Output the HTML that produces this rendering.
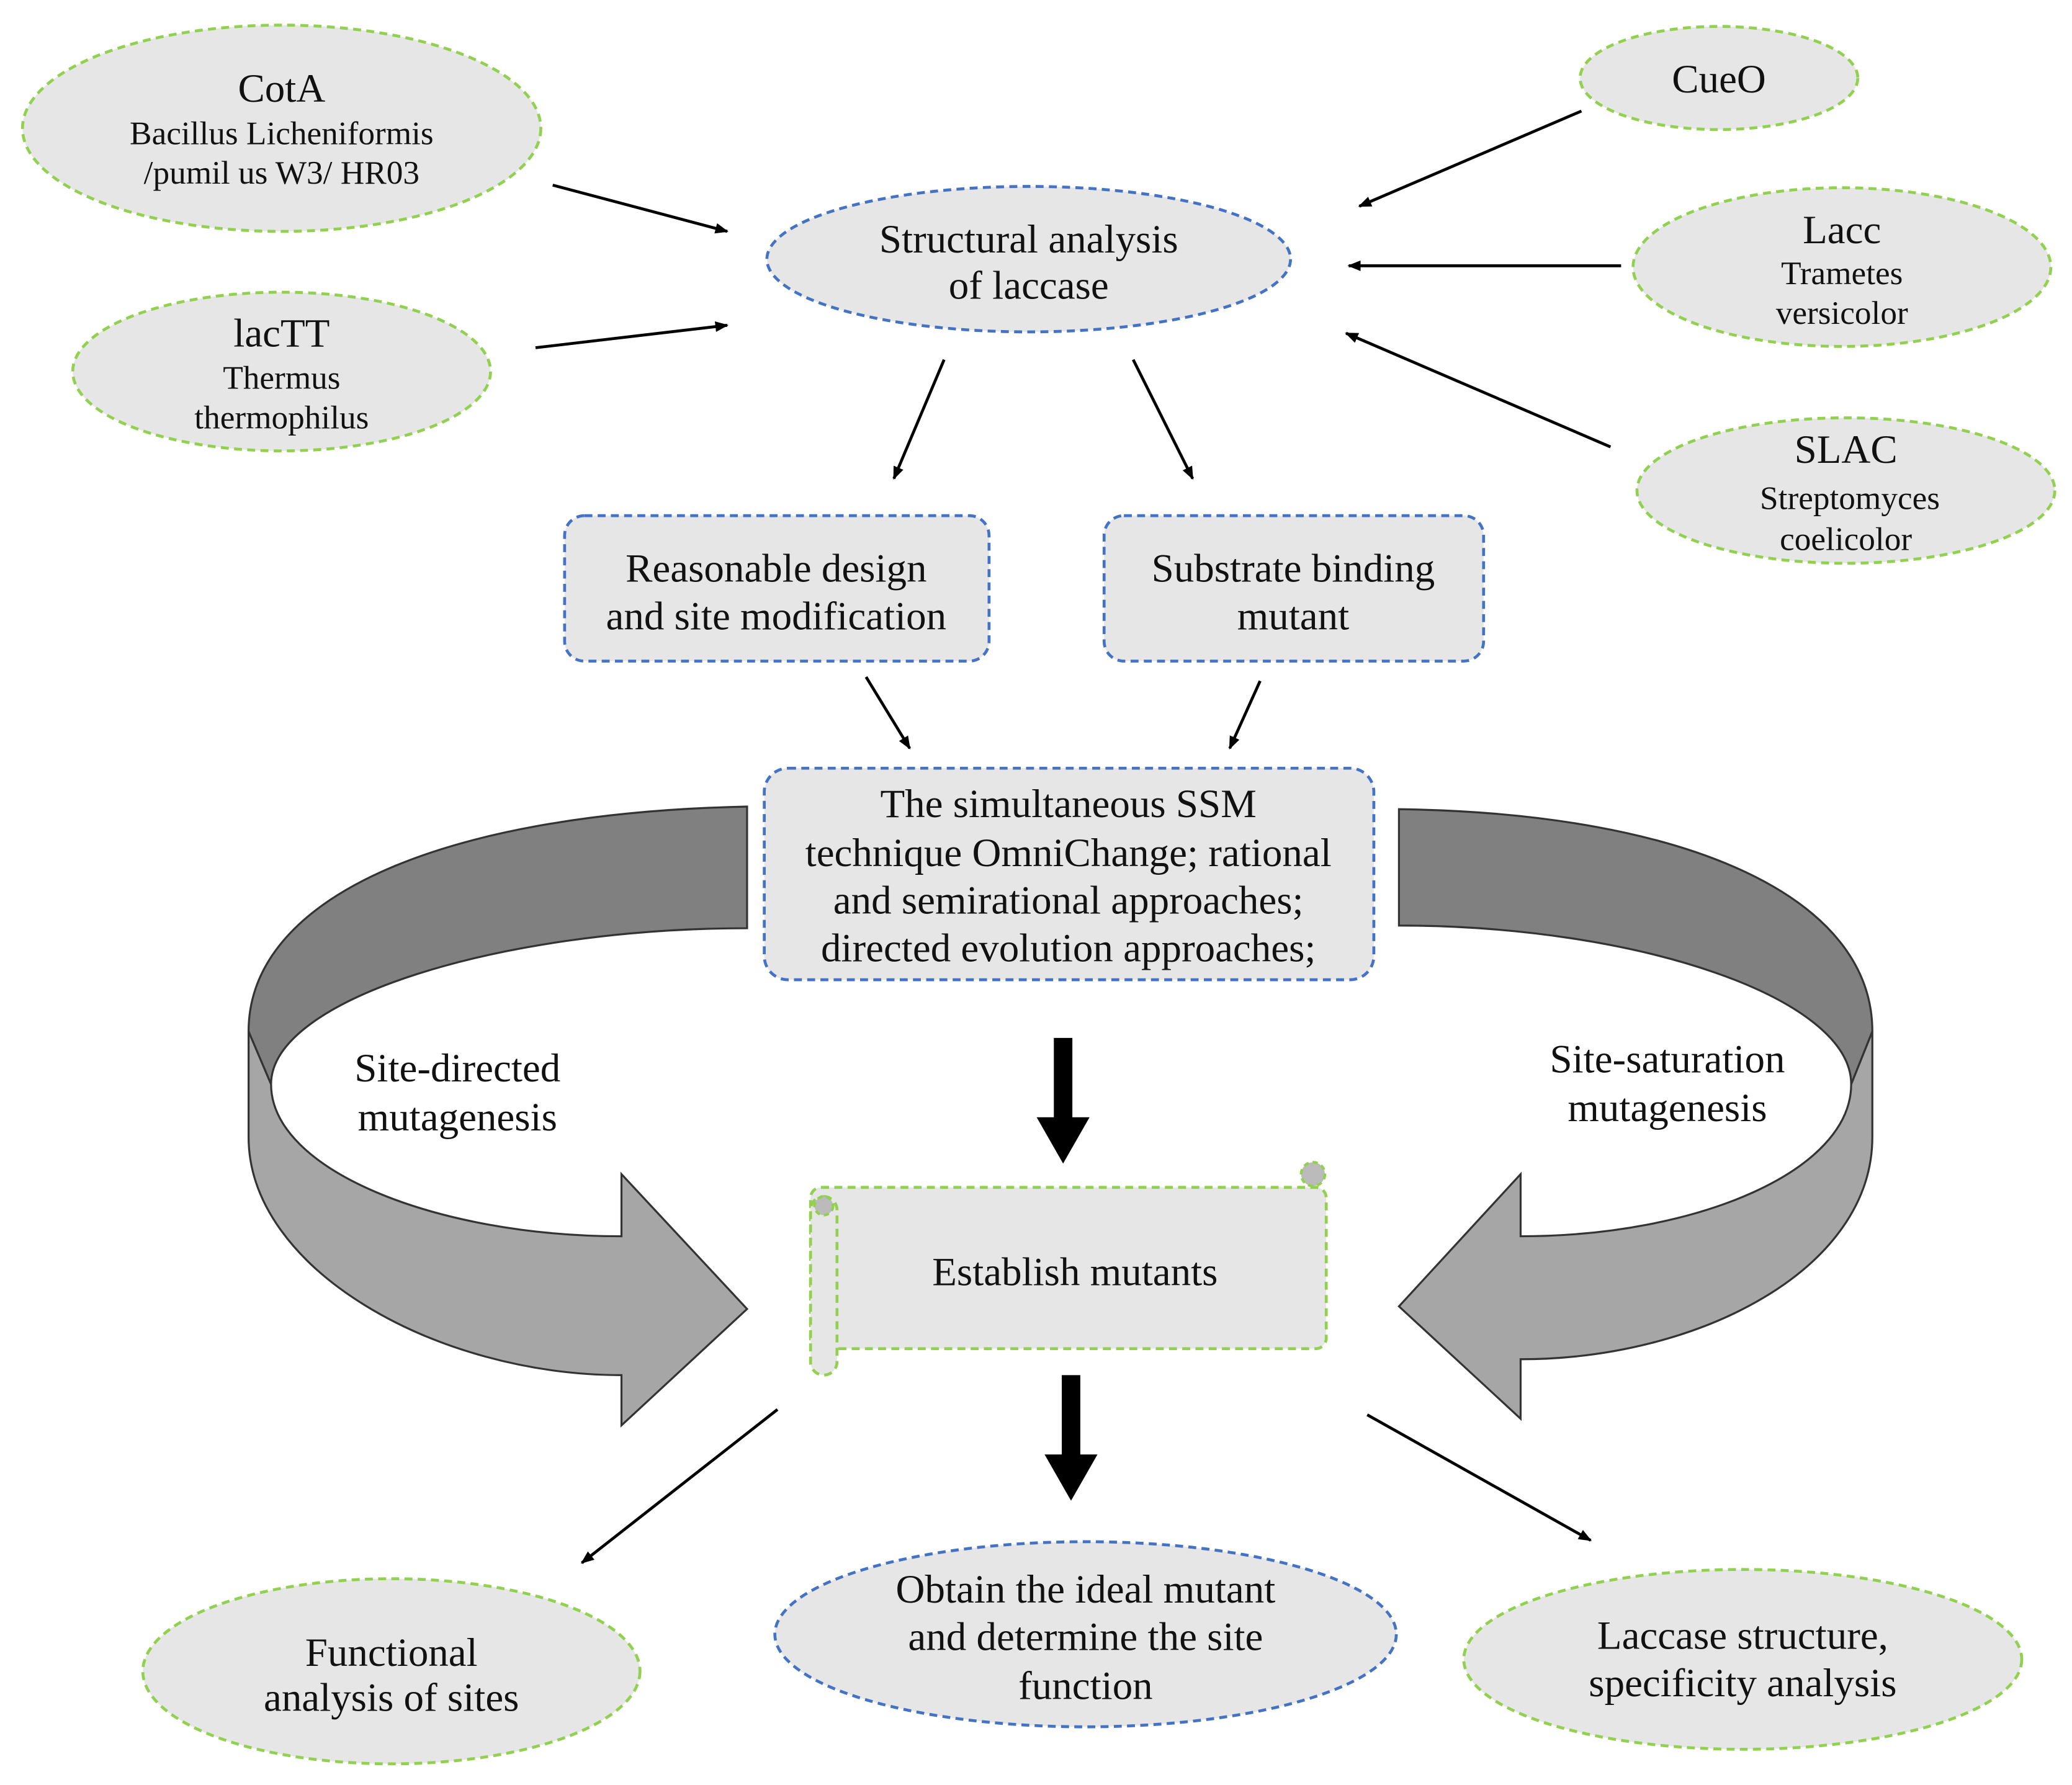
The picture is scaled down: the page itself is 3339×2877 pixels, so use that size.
<!DOCTYPE html>
<html><head><meta charset="utf-8"><style>
html,body{margin:0;padding:0;background:#fff;width:3339px;height:2877px;overflow:hidden}
svg{display:block}
text{font-family:"Liberation Serif",serif;fill:#111;text-anchor:middle}
.g{fill:#e6e6e6;stroke:#92d050;stroke-width:2.2;stroke-dasharray:6,4}
.b{fill:#e6e6e6;stroke:#4472c4;stroke-width:2.2;stroke-dasharray:6,4}
.L{font-size:30.5px}.S{font-size:25px}
.ar{stroke:#000;stroke-width:2.2;fill:none;marker-end:url(#ah)}
</style></head><body>
<svg width="3339" height="2877" viewBox="0 0 1567 1350" preserveAspectRatio="none">
<defs><marker id="ah" markerWidth="10" markerHeight="8" refX="9" refY="4" orient="auto" markerUnits="userSpaceOnUse" viewBox="0 0 10 8"><path d="M0,0 L10,4 L0,8 Z" fill="#000"/></marker></defs>

<ellipse class="g" cx="213" cy="97" rx="196" ry="78"/>
<text class="L" x="213" y="77">CotA</text>
<text class="S" x="213" y="109">Bacillus Licheniformis</text>
<text class="S" x="213" y="139">/pumil us W3/ HR03</text>

<ellipse class="g" cx="213" cy="281" rx="158" ry="60"/>
<text class="L" x="213" y="262">lacTT</text>
<text class="S" x="213" y="294">Thermus</text>
<text class="S" x="213" y="324">thermophilus</text>

<ellipse class="g" cx="1300" cy="59" rx="105" ry="39"/>
<text class="L" x="1300" y="70">CueO</text>

<ellipse class="g" cx="1393" cy="202" rx="158" ry="60"/>
<text class="L" x="1393" y="184">Lacc</text>
<text class="S" x="1393" y="215">Trametes</text>
<text class="S" x="1393" y="245">versicolor</text>

<ellipse class="g" cx="1396" cy="371" rx="158" ry="55"/>
<text class="L" x="1396" y="350">SLAC</text>
<text class="S" x="1399" y="385">Streptomyces</text>
<text class="S" x="1396" y="416">coelicolor</text>

<ellipse class="b" cx="778" cy="196" rx="198" ry="55"/>
<text class="L" x="778" y="191">Structural analysis</text>
<text class="L" x="778" y="226">of laccase</text>

<rect class="b" x="427" y="390" width="321" height="110" rx="15"/>
<text class="L" x="587" y="440">Reasonable design</text>
<text class="L" x="587" y="476">and site modification</text>

<rect class="b" x="835" y="390" width="287" height="110" rx="15"/>
<text class="L" x="978" y="440">Substrate binding</text>
<text class="L" x="978" y="476">mutant</text>

<rect class="b" x="578" y="581" width="461" height="160" rx="18"/>
<text class="L" x="808" y="618">The simultaneous SSM</text>
<text class="L" x="808" y="655">technique OmniChange; rational</text>
<text class="L" x="808" y="691">and semirational approaches;</text>
<text class="L" x="808" y="727">directed evolution approaches;</text>

<line class="ar" x1="418" y1="140" x2="550" y2="175"/>
<line class="ar" x1="405" y1="263" x2="550" y2="246"/>
<line class="ar" x1="1196" y1="84" x2="1028" y2="156"/>
<line class="ar" x1="1226" y1="201" x2="1020" y2="201"/>
<line class="ar" x1="1218" y1="338" x2="1018" y2="252"/>
<line class="ar" x1="714" y1="272" x2="676" y2="362"/>
<line class="ar" x1="857" y1="272" x2="902" y2="362"/>
<line class="ar" x1="655" y1="512" x2="688" y2="566"/>
<line class="ar" x1="953" y1="515" x2="930" y2="566"/>
<line class="ar" x1="588" y1="1066" x2="440" y2="1182"/>
<line class="ar" x1="1034" y1="1070" x2="1203" y2="1165"/>

<path d="M797,785 H811 V845 H824 L804,880 L784,845 H797 Z" fill="#000"/>
<path d="M803,1040 H817 V1100 H830 L810,1135 L790,1100 H803 Z" fill="#000"/>

<path d="M188,780 L188,860 C188,960 330,1040 470,1040 L470,1078 L565,990 L470,888 L470,935 C330,935 205,885 205,820 Z" fill="#a6a6a6" stroke="#333" stroke-width="1.5"/>
<path d="M565,610 C330,615 188,680 188,780 L205,820 C205,755 380,702 565,702 Z" fill="#808080" stroke="#333" stroke-width="1.5"/>
<path d="M1416,780 L1416,860 C1416,960 1285,1028 1150,1028 L1150,1073 L1058,988 L1150,888 L1150,935 C1285,935 1400,885 1400,820 Z" fill="#a6a6a6" stroke="#333" stroke-width="1.5"/>
<path d="M1058,612 C1280,615 1416,680 1416,780 L1400,820 C1400,755 1240,700 1058,700 Z" fill="#808080" stroke="#333" stroke-width="1.5"/>

<text class="L" x="346" y="818">Site-directed</text>
<text class="L" x="346" y="855">mutagenesis</text>
<text class="L" x="1261" y="811">Site-saturation</text>
<text class="L" x="1261" y="848">mutagenesis</text>

<rect class="g" x="613" y="898" width="390" height="122" rx="8"/>
<rect class="g" x="613" y="905" width="20" height="135" rx="10"/>
<circle cx="623" cy="912" r="7" fill="#bbb" stroke="#92d050" stroke-width="2" stroke-dasharray="4,3"/>
<circle cx="993" cy="888" r="9" fill="#bbb" stroke="#92d050" stroke-width="2" stroke-dasharray="4,3"/>
<text class="L" x="813" y="972">Establish mutants</text>

<ellipse class="g" cx="296" cy="1264" rx="188" ry="70"/>
<text class="L" x="296" y="1260">Functional</text>
<text class="L" x="296" y="1294">analysis of sites</text>

<ellipse class="b" cx="821" cy="1236" rx="235" ry="70"/>
<text class="L" x="821" y="1212">Obtain the ideal mutant</text>
<text class="L" x="821" y="1248">and determine the site</text>
<text class="L" x="821" y="1285">function</text>

<ellipse class="g" cx="1318" cy="1255" rx="211" ry="68"/>
<text class="L" x="1318" y="1247">Laccase structure,</text>
<text class="L" x="1318" y="1283">specificity analysis</text>
</svg>
</body></html>
